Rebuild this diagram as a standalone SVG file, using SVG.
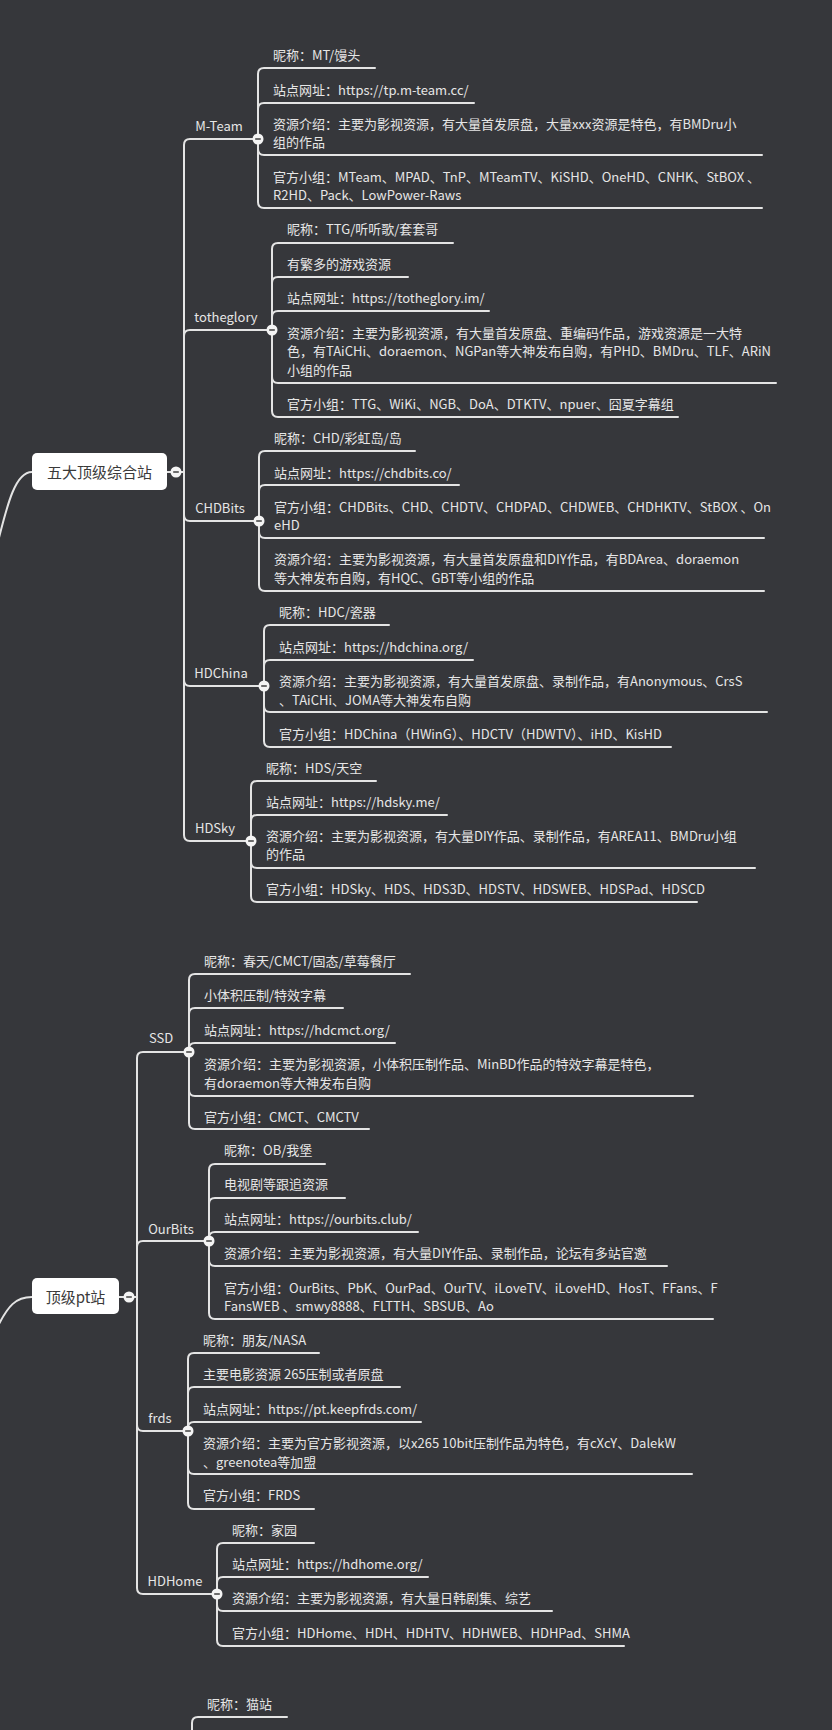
<svg xmlns="http://www.w3.org/2000/svg" xmlns:xlink="http://www.w3.org/1999/xlink" width="832" height="1730" viewBox="0 0 832 1730">
<style>
.bg{fill:#36373b}
.ln{fill:none;stroke:#e4e4e4;stroke-width:2;stroke-linecap:round;stroke-linejoin:round}
.t{font-family:"Noto Sans CJK SC","Noto Sans",sans-serif;font-size:13px;fill:#e6e6e6;dominant-baseline:central}
.lb{font-family:"Noto Sans CJK SC","Noto Sans",sans-serif;font-size:13px;fill:#e6e6e6;dominant-baseline:central;text-anchor:middle}
.rb{fill:#ffffff}
.rt{font-family:"Noto Sans CJK SC","Noto Sans",sans-serif;font-size:15px;fill:#3a3a3a;dominant-baseline:central;text-anchor:middle}
</style>
<defs>
<g id="col"><circle r="5.5" fill="#f4f4f4"/><line x1="-2.8" y1="0" x2="2.8" y2="0" stroke="#4a4a4a" stroke-width="1.6"/></g>
</defs>
<rect class="bg" x="0" y="0" width="832" height="1730"/>
<g id="connectors" class="ln">
<path d="M32,472 C16,472 8,500 -4,550"/>
<path d="M32,1297 C16,1297 8,1305 -4,1330"/>
<path d="M167,472 H176"/>
<path d="M181,472 H184 V145 Q184,139 190,139 H253"/>
<path d="M181,472 H184 V336 Q184,330 190,330 H267"/>
<path d="M181,472 H184 V515 Q184,521 190,521 H254"/>
<path d="M181,472 H184 V680 Q184,686 190,686 H259"/>
<path d="M181,472 H184 V835 Q184,841 190,841 H246"/>
<path d="M258,139 V74 Q258,68 264,68 H375"/>
<path d="M258,139 V109 Q258,103 264,103 H474"/>
<path d="M258,139 V149 Q258,155 264,155 H762"/>
<path d="M258,139 V202 Q258,208 264,208 H762"/>
<path d="M272,330 V249 Q272,243 278,243 H453"/>
<path d="M272,330 V283 Q272,277 278,277 H408"/>
<path d="M272,330 V317 Q272,311 278,311 H489"/>
<path d="M272,330 V377 Q272,383 278,383 H776"/>
<path d="M272,330 V411 Q272,417 278,417 H678"/>
<path d="M259,521 V457 Q259,451 265,451 H415"/>
<path d="M259,521 V491 Q259,485 265,485 H459"/>
<path d="M259,521 V532 Q259,538 265,538 H764"/>
<path d="M259,521 V585 Q259,591 265,591 H764"/>
<path d="M264,686 V631 Q264,625 270,625 H389"/>
<path d="M264,686 V666 Q264,660 270,660 H473"/>
<path d="M264,686 V706 Q264,712 270,712 H767"/>
<path d="M264,686 V741 Q264,747 270,747 H671"/>
<path d="M251,841 V787 Q251,781 257,781 H376"/>
<path d="M251,841 V821 Q251,815 257,815 H447"/>
<path d="M251,841 V862 Q251,868 257,868 H755"/>
<path d="M251,841 V896 Q251,902 257,902 H697"/>
<path d="M119,1297 H129"/>
<path d="M134,1297 H137 V1058 Q137,1052 143,1052 H184"/>
<path d="M134,1297 H137 V1247 Q137,1241 143,1241 H204"/>
<path d="M134,1297 H137 V1425 Q137,1431 143,1431 H183"/>
<path d="M134,1297 H137 V1588 Q137,1594 143,1594 H212"/>
<path d="M189,1052 V980 Q189,974 195,974 H410"/>
<path d="M189,1052 V1014 Q189,1008 195,1008 H343"/>
<path d="M189,1052 V1049 Q189,1043 195,1043 H395"/>
<path d="M189,1052 V1090 Q189,1096 195,1096 H693"/>
<path d="M189,1052 V1123 Q189,1129 195,1129 H369"/>
<path d="M209,1241 V1170 Q209,1164 215,1164 H325"/>
<path d="M209,1241 V1204 Q209,1198 215,1198 H345"/>
<path d="M209,1241 V1238 Q209,1232 215,1232 H418"/>
<path d="M209,1241 V1260 Q209,1266 215,1266 H667"/>
<path d="M209,1241 V1313 Q209,1319 215,1319 H713"/>
<path d="M188,1431 V1359 Q188,1353 194,1353 H319"/>
<path d="M188,1431 V1393 Q188,1387 194,1387 H400"/>
<path d="M188,1431 V1428 Q188,1422 194,1422 H421"/>
<path d="M188,1431 V1468 Q188,1474 194,1474 H692"/>
<path d="M188,1431 V1503 Q188,1509 194,1509 H314"/>
<path d="M217,1594 V1549 Q217,1543 223,1543 H314"/>
<path d="M217,1594 V1583 Q217,1577 223,1577 H428"/>
<path d="M217,1594 V1605 Q217,1611 223,1611 H552"/>
<path d="M217,1594 V1640 Q217,1646 223,1646 H624"/>
<path d="M192,1745 V1723 Q192,1717 198,1717 H287"/>
</g>
<g id="root-top5">
<rect class="rb" x="32" y="453" width="135" height="37" rx="5"/>
<text class="rt" x="99.5" y="471.5">五大顶级综合站</text>
<use xlink:href="#col" x="176" y="472"/>
</g>
<g id="mteam">
<text class="lb" x="219" y="125">M-Team</text>
<use xlink:href="#col" x="258" y="139"/>
<text class="t" x="273" y="54">昵称：MT/馒头</text>
<text class="t" x="273" y="89">站点网址：https://tp.m-team.cc/</text>
<text class="t" x="273" y="123">资源介绍：主要为影视资源，有大量首发原盘，大量xxx资源是特色，有BMDru小</text>
<text class="t" x="273" y="141">组的作品</text>
<text class="t" x="273" y="176">官方小组：MTeam、MPAD、TnP、MTeamTV、KiSHD、OneHD、CNHK、StBOX 、</text>
<text class="t" x="273" y="194">R2HD、Pack、LowPower-Raws</text>
</g>
<g id="totheglory">
<text class="lb" x="226" y="316">totheglory</text>
<use xlink:href="#col" x="272" y="330"/>
<text class="t" x="287" y="228">昵称：TTG/听听歌/套套哥</text>
<text class="t" x="287" y="263">有繁多的游戏资源</text>
<text class="t" x="287" y="297">站点网址：https://totheglory.im/</text>
<text class="t" x="287" y="332">资源介绍：主要为影视资源，有大量首发原盘、重编码作品，游戏资源是一大特</text>
<text class="t" x="287" y="350">色，有TAiCHi、doraemon、NGPan等大神发布自购，有PHD、BMDru、TLF、ARiN</text>
<text class="t" x="287" y="369">小组的作品</text>
<text class="t" x="287" y="403">官方小组：TTG、WiKi、NGB、DoA、DTKTV、npuer、囧夏字幕组</text>
</g>
<g id="chdbits">
<text class="lb" x="220" y="507">CHDBits</text>
<use xlink:href="#col" x="259" y="521"/>
<text class="t" x="274" y="437">昵称：CHD/彩虹岛/岛</text>
<text class="t" x="274" y="472">站点网址：https://chdbits.co/</text>
<text class="t" x="274" y="506">官方小组：CHDBits、CHD、CHDTV、CHDPAD、CHDWEB、CHDHKTV、StBOX 、On</text>
<text class="t" x="274" y="524">eHD</text>
<text class="t" x="274" y="558">资源介绍：主要为影视资源，有大量首发原盘和DIY作品，有BDArea、doraemon</text>
<text class="t" x="274" y="577">等大神发布自购，有HQC、GBT等小组的作品</text>
</g>
<g id="hdchina">
<text class="lb" x="221" y="672">HDChina</text>
<use xlink:href="#col" x="264" y="686"/>
<text class="t" x="279" y="611">昵称：HDC/瓷器</text>
<text class="t" x="279" y="646">站点网址：https://hdchina.org/</text>
<text class="t" x="279" y="680">资源介绍：主要为影视资源，有大量首发原盘、录制作品，有Anonymous、CrsS</text>
<text class="t" x="279" y="699">、TAiCHi、JOMA等大神发布自购</text>
<text class="t" x="279" y="733">官方小组：HDChina（HWinG）、HDCTV（HDWTV）、iHD、KisHD</text>
</g>
<g id="hdsky">
<text class="lb" x="215" y="827">HDSky</text>
<use xlink:href="#col" x="251" y="841"/>
<text class="t" x="266" y="767">昵称：HDS/天空</text>
<text class="t" x="266" y="801">站点网址：https://hdsky.me/</text>
<text class="t" x="266" y="835">资源介绍：主要为影视资源，有大量DIY作品、录制作品，有AREA11、BMDru小组</text>
<text class="t" x="266" y="853">的作品</text>
<text class="t" x="266" y="888">官方小组：HDSky、HDS、HDS3D、HDSTV、HDSWEB、HDSPad、HDSCD</text>
</g>
<g id="root-toppt">
<rect class="rb" x="32" y="1278" width="87" height="36" rx="5"/>
<text class="rt" x="75.5" y="1296">顶级pt站</text>
<use xlink:href="#col" x="129" y="1297"/>
</g>
<g id="ssd">
<text class="lb" x="161" y="1037">SSD</text>
<use xlink:href="#col" x="189" y="1052"/>
<text class="t" x="204" y="960">昵称：春天/CMCT/固态/草莓餐厅</text>
<text class="t" x="204" y="994">小体积压制/特效字幕</text>
<text class="t" x="204" y="1029">站点网址：https://hdcmct.org/</text>
<text class="t" x="204" y="1063">资源介绍：主要为影视资源，小体积压制作品、MinBD作品的特效字幕是特色，</text>
<text class="t" x="204" y="1082">有doraemon等大神发布自购</text>
<text class="t" x="204" y="1116">官方小组：CMCT、CMCTV</text>
</g>
<g id="ourbits">
<text class="lb" x="171" y="1228">OurBits</text>
<use xlink:href="#col" x="209" y="1241"/>
<text class="t" x="224" y="1149">昵称：OB/我堡</text>
<text class="t" x="224" y="1183">电视剧等跟追资源</text>
<text class="t" x="224" y="1218">站点网址：https://ourbits.club/</text>
<text class="t" x="224" y="1252">资源介绍：主要为影视资源，有大量DIY作品、录制作品，论坛有多站官邀</text>
<text class="t" x="224" y="1287">官方小组：OurBits、PbK、OurPad、OurTV、iLoveTV、iLoveHD、HosT、FFans、F</text>
<text class="t" x="224" y="1305">FansWEB 、smwy8888、FLTTH、SBSUB、Ao</text>
</g>
<g id="frds">
<text class="lb" x="160" y="1417">frds</text>
<use xlink:href="#col" x="188" y="1431"/>
<text class="t" x="203" y="1339">昵称：朋友/NASA</text>
<text class="t" x="203" y="1373">主要电影资源 265压制或者原盘</text>
<text class="t" x="203" y="1408">站点网址：https://pt.keepfrds.com/</text>
<text class="t" x="203" y="1442">资源介绍：主要为官方影视资源，以x265 10bit压制作品为特色，有cXcY、DalekW</text>
<text class="t" x="203" y="1461">、greenotea等加盟</text>
<text class="t" x="203" y="1494">官方小组：FRDS</text>
</g>
<g id="hdhome">
<text class="lb" x="175" y="1580">HDHome</text>
<use xlink:href="#col" x="217" y="1594"/>
<text class="t" x="232" y="1529">昵称：家园</text>
<text class="t" x="232" y="1563">站点网址：https://hdhome.org/</text>
<text class="t" x="232" y="1597">资源介绍：主要为影视资源，有大量日韩剧集、综艺</text>
<text class="t" x="232" y="1632">官方小组：HDHome、HDH、HDHTV、HDHWEB、HDHPad、SHMA</text>
</g>
<g id="maozhan">
<text class="t" x="207" y="1703">昵称：猫站</text>
</g>
</svg>
